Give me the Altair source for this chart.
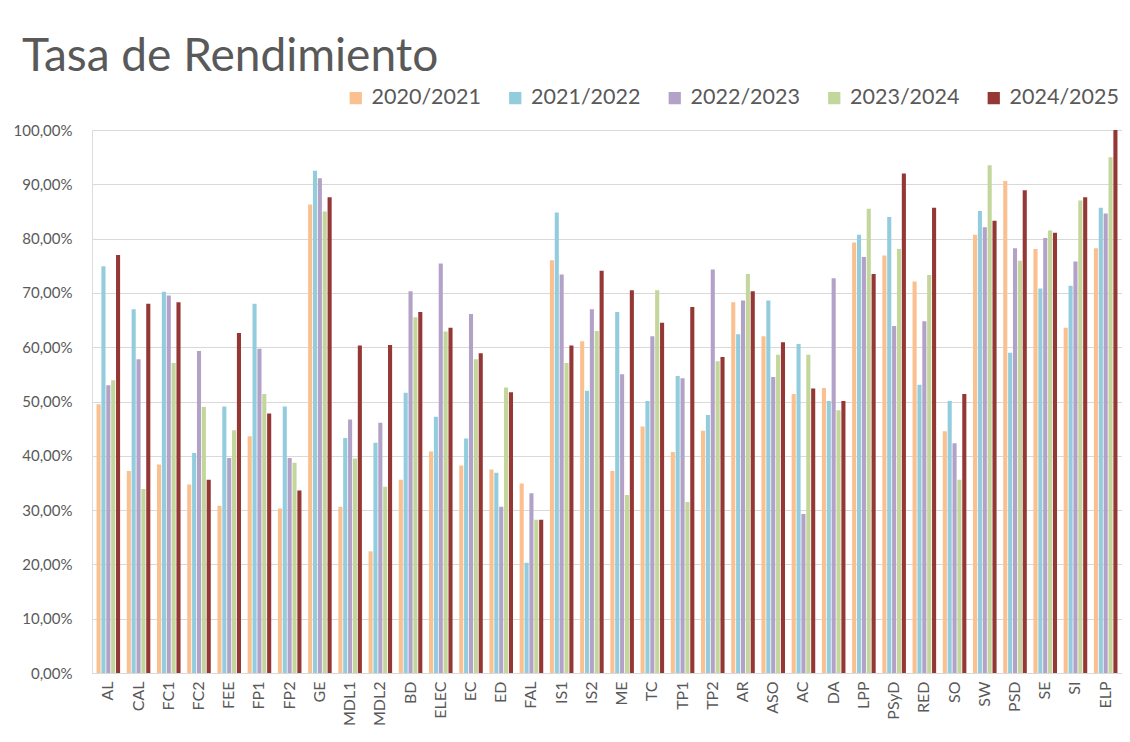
import altair as alt
import pandas as pd

categories = ["AL", "CAL", "FC1", "FC2", "FEE", "FP1", "FP2", "GE", "MDL1", "MDL2", "BD", "ELEC",
              "EC", "ED", "FAL", "IS1", "IS2", "ME", "TC", "TP1", "TP2", "AR", "ASO", "AC", "DA",
              "LPP", "PSyD", "RED", "SO", "SW", "PSD", "SE", "SI", "ELP"]
series = ["2020/2021", "2021/2022", "2022/2023", "2023/2024", "2024/2025"]
colors = ["#FAC090", "#93CDDD", "#B3A2C7", "#C3D69B", "#953735"]

v2020 = [49.5, 37.2, 38.4, 34.7, 30.8, 43.6, 30.3, 86.3, 30.6, 22.4, 35.6, 40.8,
         38.2, 37.5, 34.9, 76.0, 61.1, 37.2, 45.4, 40.7, 44.6, 68.3, 62.0, 51.4, 52.5,
         79.3, 76.9, 72.1, 44.5, 80.7, 90.6, 78.1, 63.6, 78.2]
v2021 = [74.9, 67.0, 70.2, 40.5, 49.1, 68.0, 49.1, 92.5, 43.3, 42.4, 51.6, 47.2,
         43.2, 36.9, 20.3, 84.8, 52.0, 66.5, 50.1, 54.7, 47.5, 62.4, 68.6, 60.6, 50.1,
         80.7, 84.0, 53.1, 50.1, 85.1, 59.0, 70.8, 71.3, 85.7]
v2022 = [53.0, 57.8, 69.5, 59.3, 39.6, 59.7, 39.6, 91.1, 46.7, 46.1, 70.3, 75.4,
         66.1, 30.6, 33.1, 73.4, 67.0, 55.0, 62.0, 54.3, 74.3, 68.6, 54.5, 29.3, 72.7,
         76.6, 63.9, 64.8, 42.3, 82.1, 78.2, 80.1, 75.8, 84.6]
v2023 = [53.9, 33.9, 57.1, 49.0, 44.7, 51.4, 38.7, 85.0, 39.5, 34.3, 65.5, 62.9,
         57.8, 52.6, 28.2, 57.1, 63.0, 32.8, 70.5, 31.5, 57.4, 73.5, 58.6, 58.6, 48.4,
         85.5, 78.1, 73.3, 35.6, 93.5, 75.9, 81.5, 87.0, 95.0]
v2024 = [77.0, 68.0, 68.3, 35.6, 62.6, 47.8, 33.6, 87.6, 60.3, 60.4, 66.5, 63.6,
         58.9, 51.7, 28.2, 60.3, 74.1, 70.5, 64.5, 67.4, 58.2, 70.3, 60.9, 52.4, 50.1,
         73.5, 92.0, 85.7, 51.4, 83.3, 88.9, 81.1, 87.6, 100.0]

values = [v2020, v2021, v2022, v2023, v2024]
rows = []
for s, vals in zip(series, values):
    for c, v in zip(categories, vals):
        rows.append({"cat": c, "serie": s, "valor": v / 100.0})
df = pd.DataFrame(rows)

FONT = "Lato"
GREY = "#595959"

chart = alt.Chart(df).mark_bar().encode(
    x=alt.X("cat:N", sort=categories,
            scale=alt.Scale(paddingInner=0.22, paddingOuter=0.15),
            axis=alt.Axis(title=None, labelAngle=270, labelFontSize=16, labelColor=GREY,
                          labelFont=FONT, ticks=False, domainColor="#D9D9D9",
                          labelPadding=8, labelBaseline="middle")),
    xOffset=alt.XOffset("serie:N", sort=series, scale=alt.Scale(paddingInner=0.16)),
    y=alt.Y("valor:Q", scale=alt.Scale(domain=[0, 1]),
            axis=alt.Axis(title=None, values=[i / 10 for i in range(11)],
                          labelExpr="replace(format(datum.value, '.2%'), '.', ',')",
                          labelFontSize=15, labelColor=GREY, labelFont=FONT,
                          labelOverlap=False,
                          ticks=False, domain=False, gridColor="#D9D9D9", labelPadding=20)),
    color=alt.Color("serie:N", sort=series,
                    scale=alt.Scale(domain=series, range=colors),
                    legend=alt.Legend(title=None, orient="none", direction="horizontal",
                                      legendX=253, legendY=-43, symbolType="square",
                                      symbolSize=150, symbolStrokeWidth=0,
                                      labelFontSize=21.5, labelFont=FONT, labelColor=GREY,
                                      columnPadding=23.5, labelOffset=5)),
).properties(
    width=1030, height=543,
    autosize=alt.AutoSizeParams(type="none"),
    padding={"left": 84, "top": 122, "right": 0, "bottom": 61},
    title=alt.TitleParams("Tasa de Rendimiento", anchor="start", frame="group",
                          fontSize=46, font=FONT, fontWeight=400, color=GREY,
                          dx=-70, dy=-2),
).configure_view(stroke=None).configure(background="white")

chart.save("out.html", embed_options={"renderer": "svg", "actions": False})
